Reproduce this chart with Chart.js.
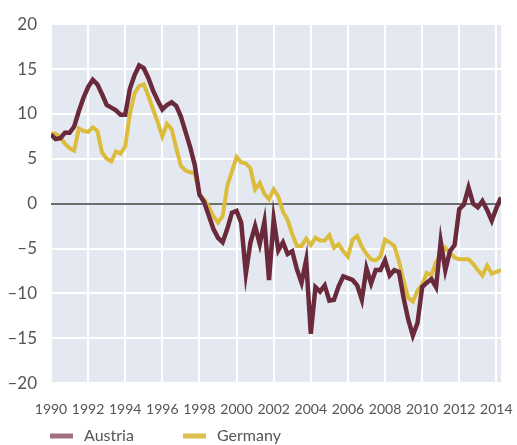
<!DOCTYPE html>
<html>
<head>
<meta charset="utf-8">
<script src="https://cdn.jsdelivr.net/npm/chart.js@4"></script>
<style>
  html, body { margin: 0; padding: 0; background: #fff; }
  #wrap { width: 517px; height: 445px; position: relative; }
</style>
</head>
<body>
<div id="wrap"><canvas id="myChart" width="517" height="445"></canvas></div>
<script>
// quarterly observations, 1990 Q1 to 2014 Q2
const startYear = 1990;
const seriesNames = ["Austria", "Germany"];
const austria = [
  7.7, 7.2, 7.3, 7.9,   7.9, 8.6, 10.3, 11.8,   13.0, 13.8, 13.3, 12.2,   11.0, 10.7, 10.4, 9.9,
  9.9, 12.8, 14.3, 15.4,   15.1, 14.0, 12.6, 11.5,   10.5, 11.0, 11.3, 10.9,   9.7, 8.0, 6.3, 4.3,
  1.0, 0.2, -1.3, -2.8,   -3.8, -4.3, -2.8, -1.0,   -0.8, -2.1, -7.8, -4.3,   -2.5, -4.5, -2.0, -8.5,
  -1.7, -5.2, -4.3, -5.6,   -5.3, -7.3, -8.8, -6.3,   -14.5, -9.3, -9.8, -9.1,   -10.8, -10.7, -9.2, -8.1,
  -8.3, -8.5, -9.1, -10.7,   -7.2, -8.9, -7.4, -7.4,   -6.3, -8.0, -7.4, -7.6,   -10.5, -12.9, -14.7, -13.3,
  -9.3, -8.8, -8.4, -9.3,   -4.2, -7.4, -5.3, -4.6,   -0.6, -0.1, 1.8, 0.0,   -0.4, 0.3, -0.7, -1.9,
  -0.5, 0.7
];
const germany = [
  7.8, 7.8, 7.4, 6.7,   6.2, 5.9, 8.4, 8.1,   8.0, 8.5, 8.1, 5.7,   5.0, 4.7, 5.8, 5.6,
  6.4, 10.0, 12.3, 13.1,   13.3, 12.0, 10.5, 9.1,   7.5, 8.9, 8.3, 6.2,   4.2, 3.7, 3.5, 3.4,
  1.0, 0.5, -0.3, -1.4,   -2.1, -1.4, 2.0, 3.6,   5.2, 4.6, 4.5, 3.9,   1.6, 2.3, 1.1, 0.5,
  1.6, 0.8, -0.9, -1.8,   -3.4, -4.7, -4.7, -3.9,   -4.6, -3.8, -4.1, -4.1,   -3.5, -4.9, -4.5, -5.3,
  -5.9, -4.0, -3.6, -4.8,   -5.6, -6.2, -6.3, -5.9,   -4.0, -4.3, -4.7, -6.4,   -8.6, -10.5, -10.9, -9.7,
  -9.0, -7.7, -8.0, -6.5,   -5.8, -4.9, -5.5, -6.0,   -6.2, -6.2, -6.2, -6.7,   -7.4, -8.0, -6.9, -7.8,
  -7.6, -7.4
];
const yTicks = [-20, -15, -10, -5, 0, 5, 10, 15, 20];
const xTickYears = [1990, 1992, 1994, 1996, 1998, 2000, 2002, 2004, 2006, 2008, 2010, 2012, 2014];

const colors = ["#6b2a3b", "#dcbc3c"];
const legendColors = ["#a1707f", "#dcc04b"];

function toPoints(values) {
  return values.map((v, i) => ({ x: startYear + i / 4, y: v }));
}

const FONT = "Lato, 'Open Sans', sans-serif";

const plotBackground = {
  id: "plotBackground",
  beforeDraw(chart) {
    const a = chart.chartArea, ctx = chart.ctx;
    ctx.save();
    ctx.fillStyle = "#e4e9f1";
    ctx.fillRect(a.left, a.top, a.right - a.left, a.bottom - a.top);
    ctx.restore();
  }
};

const bottomLegend = {
  id: "bottomLegend",
  afterDraw(chart) {
    const ctx = chart.ctx;
    const items = [{ x: 50 }, { x: 183 }];
    ctx.save();
    ctx.font = "16px " + FONT;
    ctx.textBaseline = "middle";
    chart.data.datasets.forEach((ds, i) => {
      const x = items[i].x, y = 436;
      ctx.fillStyle = legendColors[i];
      ctx.fillRect(x, y - 2.5, 23, 5);
      ctx.fillStyle = "#555";
      ctx.fillText(ds.label, x + 34, y);
    });
    ctx.restore();
  }
};

const config = {
  type: "line",
  data: {
    datasets: [
      {
        label: seriesNames[0],
        data: toPoints(austria),
        borderColor: colors[0],
        borderWidth: 4.5,
        pointRadius: 0,
        tension: 0,
        borderJoinStyle: "miter"
      },
      {
        label: seriesNames[1],
        data: toPoints(germany),
        borderColor: colors[1],
        borderWidth: 4,
        pointRadius: 0,
        tension: 0,
        borderJoinStyle: "miter"
      }
    ]
  },
  options: {
    responsive: false,
    animation: false,
    events: [],
    layout: { padding: { left: 0, right: 16, top: 20, bottom: 9 } },
    plugins: {
      legend: { display: false },
      tooltip: { enabled: false }
    },
    scales: {
      x: {
        type: "linear",
        min: startYear,
        max: 2014.25,
        border: { display: false },
        grid: { color: "#ffffff", lineWidth: 2, drawTicks: false },
        afterBuildTicks(scale) {
          scale.ticks = xTickYears.map(v => ({ value: v }));
        },
        afterFit(scale) {
          scale.paddingLeft = 0;
          scale.paddingRight = 0;
        },
        ticks: {
          autoSkip: false,
          maxRotation: 0,
          padding: 18,
          color: "#555",
          font: { family: FONT, size: 14 },
          callback: v => String(v)
        }
      },
      y: {
        min: -20,
        max: 20,
        border: { display: false },
        afterFit(scale) { scale.width = 51; },
        afterBuildTicks(scale) {
          scale.ticks = yTicks.map(v => ({ value: v }));
        },
        grid: {
          drawTicks: false,
          color: ctx => ctx.tick && ctx.tick.value === 0 ? "#6e6e6e" : "#ffffff",
          lineWidth: 2,
          z: 0
        },
        ticks: {
          padding: 14,
          color: "#555",
          font: { family: FONT, size: 17 },
          callback: v => v < 0 ? "\u2013" + Math.abs(v) : String(v)
        }
      }
    }
  },
  plugins: [plotBackground, bottomLegend]
};

var myChart = new Chart(document.getElementById("myChart"), config);
</script>
</body>
</html>
